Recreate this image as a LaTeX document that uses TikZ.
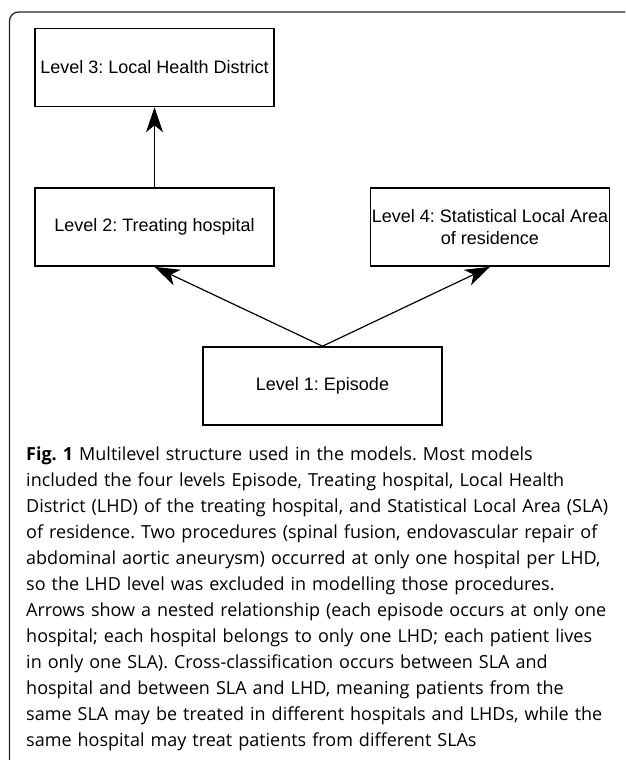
\documentclass[tikz,border=0pt]{standalone}
\usepackage{fontspec}
\setmainfont{Liberation Sans}
\newfontfamily\capfont{Open Sans}
\usetikzlibrary{arrows.meta}

\begin{document}
\frenchspacing
\begin{tikzpicture}[x=1pt,y=-1pt,
		level/.style={draw,line width=1.6pt,minimum width=239pt,minimum height=78pt,inner sep=0pt,align=center,font=\fontsize{18}{21.7}\selectfont},
		nest/.style={-{Stealth[length=25pt,width=17pt,inset=7pt]},line width=1.2pt}]
	\useasboundingbox (0,0) rectangle (625,760);
	\clip (0,0) rectangle (625,760);
	% frame
	\draw [line width=1.3pt,black!85,rounded corners=9pt] (650,12) -- (9.5,12) -- (9.5,790);
	% levels
	\node [level] (lhd) at (154.5,67.5) {Level 3: Local Health District};
	\node [level] (hosp) at (154.5,227) {Level 2: Treating hospital};
	\node [level] (sla) at (490,227) {Level 4: Statistical Local Area\\of residence};
	\node [level] (epi) at (322.5,386) {Level 1: Episode};
	% nesting
	\draw [nest] (hosp.north) -- (lhd.south);
	\draw [nest] (epi.north) -- (hosp.south);
	\draw [nest] (epi.north) -- (sla.south);
	% caption
	\node [anchor=north west,inner sep=0pt,text width=600pt,align=left,font=\capfont\fontsize{18}{26}\selectfont] (cap) at (26,447)
		{\textbf{Fig. 1} Multilevel structure used in the models. Most models\\
		included the four levels Episode, Treating hospital, Local Health\\
		District (LHD) of the treating hospital, and Statistical Local Area (SLA)\\
		of residence. Two procedures (spinal fusion, endovascular repair of\\
		abdominal aortic aneurysm) occurred at only one hospital per LHD,\\
		so the LHD level was excluded in modelling those procedures.\\
		Arrows show a nested relationship (each episode occurs at only one\\
		hospital; each hospital belongs to only one LHD; each patient lives\\
		in only one SLA). Cross-classification occurs between SLA and\\
		hospital and between SLA and LHD, meaning patients from the\\
		same SLA may be treated in different hospitals and LHDs, while the\\
		same hospital may treat patients from different SLAs};
\end{tikzpicture}
\end{document}
